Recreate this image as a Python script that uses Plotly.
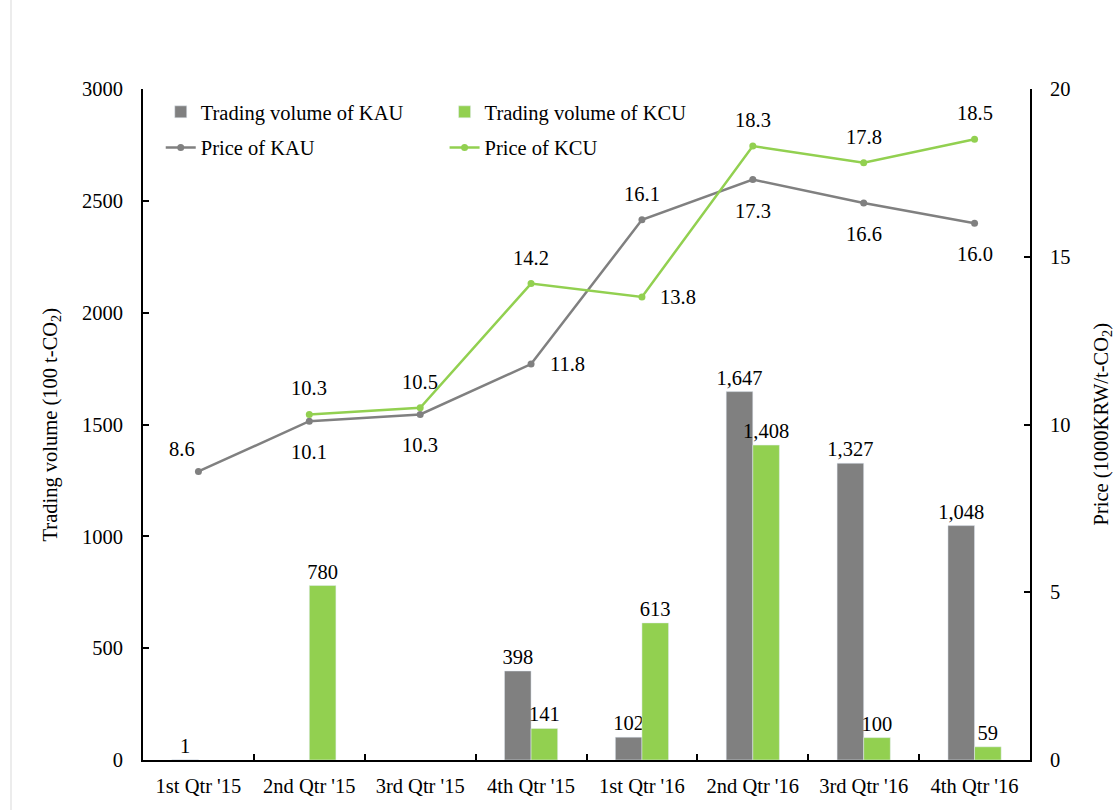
import plotly.graph_objects as go

quarters = ["1st Qtr '15", "2nd Qtr '15", "3rd Qtr '15", "4th Qtr '15",
            "1st Qtr '16", "2nd Qtr '16", "3rd Qtr '16", "4th Qtr '16"]
vol_kau = [1, None, None, 398, 102, 1647, 1327, 1048]
vol_kcu = [None, 780, None, 141, 613, 1408, 100, 59]
price_kau = [8.6, 10.1, 10.3, 11.8, 16.1, 17.3, 16.6, 16.0]
price_kcu = [None, 10.3, 10.5, 14.2, 13.8, 18.3, 17.8, 18.5]

# where each price label sits relative to its point
pos_kau = ["upleft", "below", "below", "right", "above", "below", "below", "below"]
pos_kcu = [None, "above", "above", "above", "right", "above", "above", "above"]

GRAY = "#808080"
GREEN = "#92D050"
FONT = "'Times New Roman', 'Liberation Serif', serif"
FS = 20.5

# plot area in pixels
L, R, T, B = 143, 85, 89, 50
PW = 1115 - L - R
PH = 810 - T - B


def px_x(px):
    return (px - L) / PW


fig = go.Figure()

fig.add_trace(go.Bar(
    x=quarters, y=vol_kau, name="Trading volume of KAU",
    marker=dict(color=GRAY), texttemplate="%{y:,}", textposition="outside",
    constraintext="none",
    textfont=dict(family=FONT, size=FS, color="black"), cliponaxis=False,
    legend="legend", legendgroup="a"))
fig.add_trace(go.Bar(
    x=quarters, y=vol_kcu, name="Trading volume of KCU",
    marker=dict(color=GREEN), texttemplate="%{y:,}", textposition="outside",
    constraintext="none",
    textfont=dict(family=FONT, size=FS, color="black"), cliponaxis=False,
    legend="legend2", legendgroup="c"))
fig.add_trace(go.Scatter(
    x=quarters, y=price_kau, name="Price of KAU", yaxis="y2",
    mode="lines+markers", line=dict(color=GRAY, width=2.5),
    marker=dict(size=7, color=GRAY), legend="legend", legendgroup="b"))
fig.add_trace(go.Scatter(
    x=quarters, y=price_kcu, name="Price of KCU", yaxis="y2",
    mode="lines+markers", line=dict(color=GREEN, width=2.5),
    marker=dict(size=7, color=GREEN), legend="legend2", legendgroup="d"))

offsets = {"above": (0, -26), "below": (0, 31), "right": (36, 0), "upleft": (-16, -22)}
annotations = []
for vals, poss in ((price_kau, pos_kau), (price_kcu, pos_kcu)):
    for q, v, p in zip(quarters, vals, poss):
        if v is None:
            continue
        dx, dy = offsets[p]
        annotations.append(dict(
            x=q, y=v, xref="x", yref="y2", text=f"{v:.1f}", showarrow=False,
            xshift=dx, yshift=-dy, font=dict(family=FONT, size=FS, color="black")))

# axis titles, rotated
annotations.append(dict(
    text="Trading volume (100 t-CO<sub>2</sub>)", textangle=-90, showarrow=False,
    xref="paper", yref="paper", x=px_x(51), y=0.5, xanchor="center", yanchor="middle",
    font=dict(family=FONT, size=FS, color="black")))
annotations.append(dict(
    text="Price (1000KRW/t-CO<sub>2</sub>)", textangle=-90, showarrow=False,
    xref="paper", yref="paper", x=px_x(1102), y=0.5, xanchor="center", yanchor="middle",
    font=dict(family=FONT, size=FS, color="black")))

axis_common = dict(showline=True, linecolor="black", linewidth=2,
                   ticks="inside", ticklen=6, tickwidth=2, tickcolor="black",
                   showgrid=False, zeroline=False, automargin=False,
                   tickfont=dict(family=FONT, size=FS, color="black"))

legend_common = dict(orientation="v", yanchor="top", y=1 - 3 / PH, xanchor="left",
                     bgcolor="rgba(0,0,0,0)", tracegroupgap=6,
                     font=dict(family=FONT, size=FS, color="black"),
                     itemwidth=30, traceorder="grouped")

fig.update_layout(
    width=1115, height=810,
    margin=dict(l=L, r=R, t=T, b=B),
    paper_bgcolor="white", plot_bgcolor="white",
    font=dict(family=FONT, size=FS, color="black"),
    barmode="group", bargap=0.52, bargroupgap=0,
    xaxis=dict(**axis_common, type="category", tickson="boundaries",
               ticklabelstandoff=6),
    yaxis=dict(**axis_common, range=[0, 3000], tickvals=[0, 500, 1000, 1500, 2000, 2500, 3000],
               ticklabelstandoff=14),
    yaxis2=dict(**axis_common, overlaying="y", side="right", range=[0, 20],
                tickvals=[0, 5, 10, 15, 20], ticklabelstandoff=14),
    legend=dict(**legend_common, x=0.020),
    legend2=dict(**legend_common, x=0.340),
    annotations=annotations,
    shapes=[dict(type="line", xref="paper", yref="paper",
                 x0=px_x(11), x1=px_x(11), y0=-B / PH, y1=1 + T / PH,
                 line=dict(color="#d9d9d9", width=1))],
)

fig.write_html("out.html")
